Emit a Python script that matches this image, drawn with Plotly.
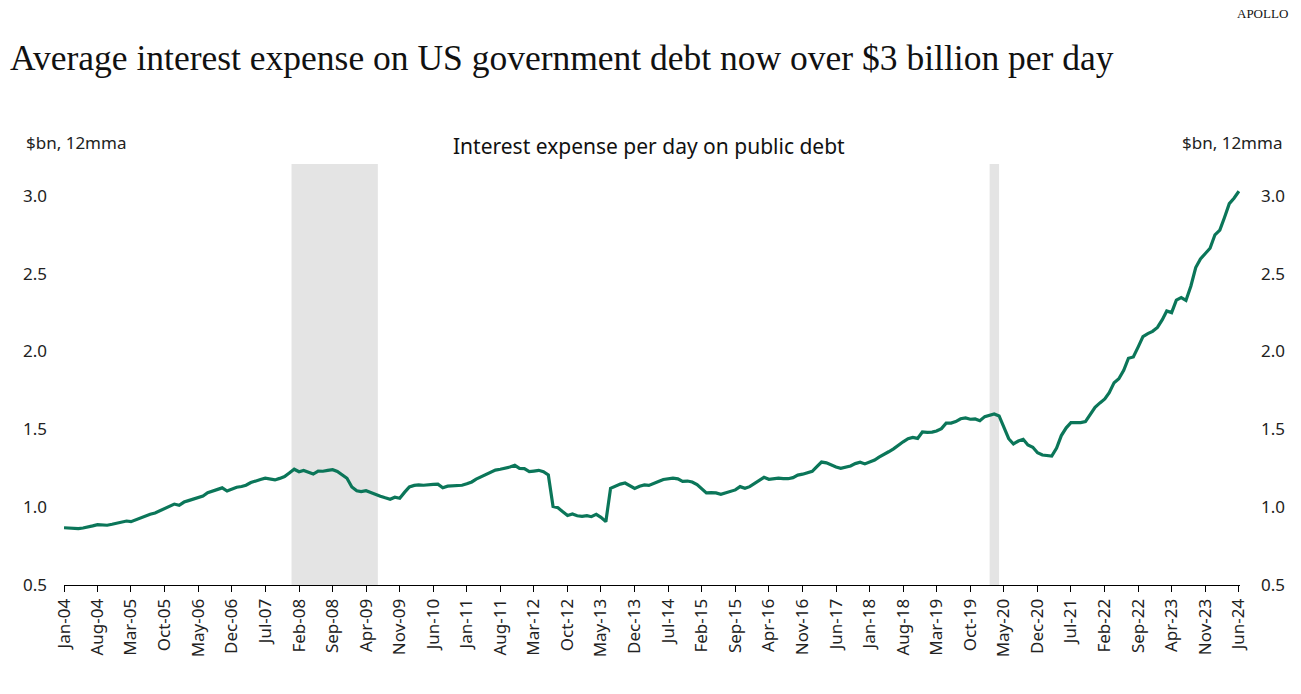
import pandas as pd
import plotly.graph_objects as go

# monthly 12mma interest expense per day, $bn (Jan-04 .. Jun-24)
start_month = "2004-01-01"
interest_per_day = [
    0.868, 0.866, 0.864, 0.862, 0.866, 0.871, 0.880, 0.888, 0.886, 0.884, 0.890, 0.896,  # 2004
    0.903, 0.911, 0.907, 0.920, 0.933, 0.946, 0.955, 0.963, 0.978, 0.993, 1.005, 1.020,  # 2005
    1.012, 1.033, 1.042, 1.051, 1.060, 1.072, 1.093, 1.105, 1.114, 1.124, 1.104, 1.116,  # 2006
    1.128, 1.133, 1.141, 1.158, 1.170, 1.178, 1.186, 1.180, 1.175, 1.185, 1.197, 1.220,  # 2007
    1.244, 1.228, 1.236, 1.225, 1.213, 1.232, 1.231, 1.236, 1.241, 1.230, 1.210, 1.186,  # 2008
    1.130, 1.105, 1.100, 1.106, 1.095, 1.080, 1.070, 1.060, 1.051, 1.064, 1.057, 1.095,  # 2009
    1.130, 1.140, 1.143, 1.141, 1.145, 1.147, 1.148, 1.125, 1.135, 1.138, 1.140, 1.141,  # 2010
    1.150, 1.162, 1.180, 1.195, 1.210, 1.225, 1.238, 1.244, 1.250, 1.258, 1.269, 1.249,  # 2011
    1.248, 1.228, 1.232, 1.237, 1.228, 1.207, 1.005, 0.996, 0.970, 0.946, 0.956, 0.945,  # 2012
    0.941, 0.946, 0.939, 0.954, 0.935, 0.907, 1.121, 1.135, 1.148, 1.155, 1.135, 1.121,  # 2013
    1.135, 1.143, 1.140, 1.150, 1.165, 1.178, 1.183, 1.187, 1.182, 1.166, 1.168, 1.162,  # 2014
    1.145, 1.115, 1.092, 1.093, 1.092, 1.083, 1.092, 1.104, 1.111, 1.132, 1.121, 1.132,  # 2015
    1.152, 1.172, 1.192, 1.179, 1.183, 1.186, 1.184, 1.183, 1.190, 1.206, 1.212, 1.222,  # 2016
    1.230, 1.262, 1.290, 1.285, 1.271, 1.258, 1.250, 1.255, 1.265, 1.280, 1.289, 1.278,  # 2017
    1.292, 1.303, 1.322, 1.342, 1.356, 1.375, 1.400, 1.420, 1.440, 1.448, 1.442, 1.483,  # 2018
    1.481, 1.482, 1.490, 1.505, 1.540, 1.540, 1.550, 1.568, 1.574, 1.565, 1.567, 1.556,  # 2019
    1.582, 1.592, 1.599, 1.586, 1.517, 1.440, 1.406, 1.425, 1.436, 1.400, 1.385, 1.350,  # 2020
    1.335, 1.330, 1.329, 1.380, 1.460, 1.510, 1.543, 1.543, 1.543, 1.550, 1.600, 1.642,  # 2021
    1.670, 1.695, 1.735, 1.800, 1.825, 1.880, 1.957, 1.965, 2.030, 2.096, 2.115, 2.130,  # 2022
    2.155, 2.205, 2.261, 2.250, 2.330, 2.346, 2.328, 2.420, 2.540, 2.595, 2.630, 2.664,  # 2023
    2.750, 2.780, 2.860, 2.950, 2.985, 3.030,                                            # 2024
]
months = pd.date_range(start_month, periods=len(interest_per_day), freq="MS")

recession_starts = ["2007-12-15", "2020-02-01"]
recession_ends = ["2009-06-15", "2020-04-01"]

y_ticks = [0.5, 1.0, 1.5, 2.0, 2.5, 3.0]

W, H = 1301, 694
L, R, T, B = 64, 1240, 164, 585  # plot area in pixels


def px_x(x):
    return (x - L) / (R - L)


def px_y(y):
    return (B - y) / (B - T)


tick_font = dict(family="Noto Sans, Open Sans, sans-serif", size=17, color="#222")

fig = go.Figure()
fig.add_trace(go.Scatter(x=months, y=interest_per_day, mode="lines",
                         line=dict(color="#0b7659", width=3.2), hoverinfo="x+y"))
# same series on the right-hand axis, invisible, so both scales show
fig.add_trace(go.Scatter(x=months, y=interest_per_day, mode="lines", yaxis="y2",
                         line=dict(color="rgba(0,0,0,0)", width=0), hoverinfo="skip"))

for x0, x1 in zip(recession_starts, recession_ends):
    fig.add_shape(type="rect", xref="x", yref="paper", x0=x0, x1=x1, y0=0, y1=1,
                  fillcolor="#e4e4e4", line=dict(width=0), layer="below")

fig.update_layout(
    width=W, height=H,
    margin=dict(l=L, r=W - R, t=T, b=H - B),
    paper_bgcolor="white", plot_bgcolor="white",
    showlegend=False,
    title=dict(text="Average interest expense on US government debt now over $3 billion per day",
               x=10 / W, xanchor="left", xref="container",
               y=1 - 58 / H, yanchor="middle", yref="container",
               font=dict(family="Liberation Serif, DejaVu Serif, serif", size=35.5, color="#111")),
    xaxis=dict(type="date", range=["2004-01-01", "2024-06-08"],
               tick0="2004-01-01", dtick="M7", tickformat="%b-%y", tickangle=-90,
               showgrid=False, zeroline=False,
               showline=True, linecolor="#000", linewidth=1,
               ticks="outside", ticklen=6, tickcolor="#000", tickfont=tick_font),
    yaxis=dict(range=[0.5, 3.205], tickvals=y_ticks, tickformat=".1f",
               showgrid=False, zeroline=False, showline=False,
               ticklabelstandoff=16, tickfont=tick_font),
    yaxis2=dict(range=[0.5, 3.205], tickvals=y_ticks, tickformat=".1f",
                overlaying="y", side="right",
                showgrid=False, zeroline=False, showline=False,
                ticklabelstandoff=20, tickfont=tick_font),
)

fig.add_annotation(text="$bn, 12mma", xref="paper", yref="paper",
                   x=px_x(24), y=px_y(142), xanchor="left", yanchor="middle",
                   showarrow=False, font=tick_font)
fig.add_annotation(text="$bn, 12mma", xref="paper", yref="paper",
                   x=px_x(1284), y=px_y(142), xanchor="right", yanchor="middle",
                   showarrow=False, font=tick_font)
fig.add_annotation(text="Interest expense per day on public debt", xref="paper", yref="paper",
                   x=px_x(649), y=px_y(146), xanchor="center", yanchor="middle",
                   showarrow=False,
                   font=dict(family="Noto Sans, Open Sans, sans-serif", size=21, color="#111"))
fig.add_annotation(text="APOLLO", xref="paper", yref="paper",
                   x=px_x(1290), y=px_y(14), xanchor="right", yanchor="middle",
                   showarrow=False,
                   font=dict(family="Liberation Serif, DejaVu Serif, serif", size=13, color="#111"))

# drop the browser's default body margin so the figure sits at the page corner
fig.write_html("out.html", config={"displayModeBar": False},
               post_script="document.body.style.margin = '0px';")
